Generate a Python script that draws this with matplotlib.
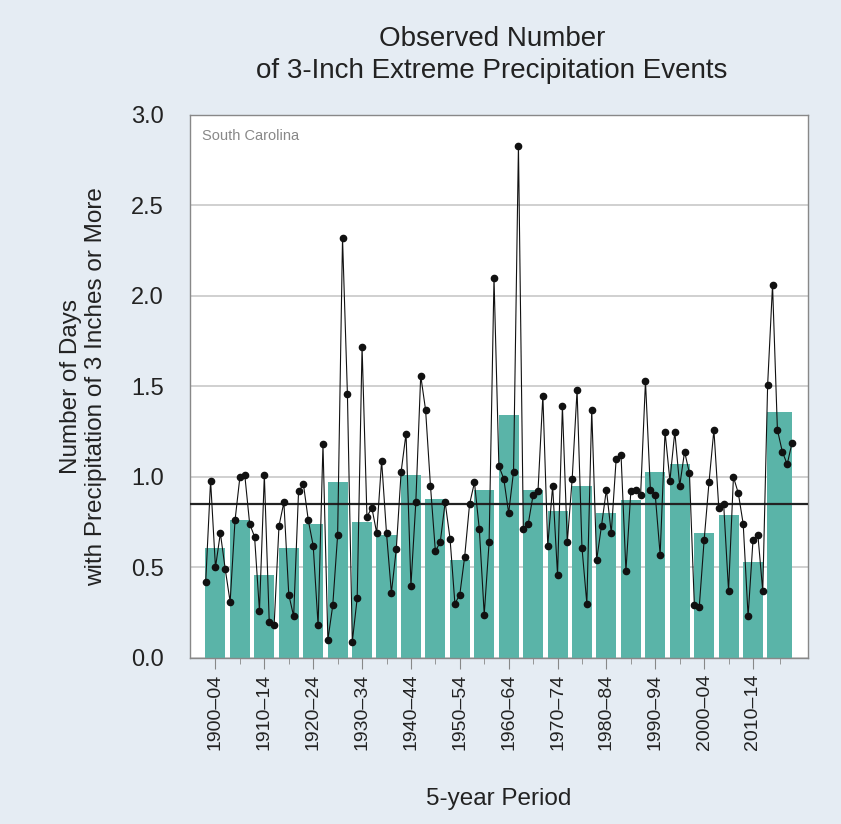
import numpy as np
import matplotlib
matplotlib.use("Agg")
import matplotlib.pyplot as plt

plt.rcParams['font.family'] = ['Liberation Sans', 'DejaVu Sans']

# annual number of 3-inch days, 1900-2020
years = np.arange(1900, 2021)
annual = [
    0.42, 0.98, 0.50, 0.69, 0.49, 0.31, 0.76, 1.00, 1.01, 0.74,
    0.67, 0.26, 1.01, 0.20, 0.18, 0.73, 0.86, 0.35, 0.23, 0.92,
    0.96, 0.76, 0.62, 0.18, 1.18, 0.10, 0.29, 0.68, 2.32, 1.46,
    0.09, 0.33, 1.72, 0.78, 0.83, 0.69, 1.09, 0.69, 0.36, 0.60,
    1.03, 1.24, 0.40, 0.86, 1.56, 1.37, 0.95, 0.59, 0.64, 0.86,
    0.66, 0.30, 0.35, 0.56, 0.85, 0.97, 0.71, 0.24, 0.64, 2.10,
    1.06, 0.99, 0.80, 1.03, 2.83, 0.71, 0.74, 0.90, 0.92, 1.45,
    0.62, 0.95, 0.46, 1.39, 0.64, 0.99, 1.48, 0.61, 0.30, 1.37,
    0.54, 0.73, 0.93, 0.69, 1.10, 1.12, 0.48, 0.92, 0.93, 0.90,
    1.53, 0.93, 0.90, 0.57, 1.25, 0.98, 1.25, 0.95, 1.14, 1.02,
    0.29, 0.28, 0.65, 0.97, 1.26, 0.83, 0.85, 0.37, 1.00, 0.91,
    0.74, 0.23, 0.65, 0.68, 0.37, 1.51, 2.06, 1.26, 1.14, 1.07,
    1.19,
]

# 5-year period averages (last period 2015-2020)
period_start = list(range(1900, 2020, 5))
period_end = [s + 4 for s in period_start[:-1]] + [2020]
period_avg = [
    0.61, 0.76, 0.46, 0.61, 0.74, 0.97, 0.75, 0.68, 1.01, 0.88,
    0.54, 0.93, 1.34, 0.93, 0.81, 0.95, 0.80, 0.87, 1.03, 1.07,
    0.69, 0.79, 0.53, 1.36,
]
period_labels = [f"{s}–{str(e)[2:]}" for s, e in zip(period_start, period_end)]
long_term_avg = 0.85

fig = plt.figure(figsize=(8.41, 8.24), dpi=100)
fig.patch.set_facecolor('#e5ecf3')
ax = fig.add_axes([0.226, 0.2015, 0.735, 0.659])
ax.set_facecolor('white')

centers = [(s + e) / 2 for s, e in zip(period_start, period_end)]
widths = [e - s + 0.1 for s, e in zip(period_start, period_end)]
ax.bar(centers, period_avg, width=widths, color='#5ab4a8', zorder=2)

ax.axhline(long_term_avg, color='#222222', lw=1.6, zorder=3)
ax.plot(years, annual, color='#111111', lw=0.8, marker='o', ms=4.5, zorder=4)

ax.set_ylim(0, 3.0)
ax.set_xlim(1896.8, 2023.3)
ax.set_yticks(np.arange(0, 3.01, 0.5))
ax.set_yticklabels([f"{v:.1f}" for v in np.arange(0, 3.01, 0.5)])
ax.yaxis.grid(True, color='#c8c8c8', lw=1.2, zorder=0)
ax.set_axisbelow(True)

ax.set_xticks(centers[::2])
ax.set_xticklabels(period_labels[::2], rotation=90)
ax.set_xticks(centers[1::2], minor=True)
ax.tick_params(axis='x', which='major', length=8, color='#888888', labelsize=14, labelcolor='#222222')
ax.tick_params(axis='x', which='minor', length=4, color='#888888')
ax.tick_params(axis='y', length=0, labelsize=17, labelcolor='#222222', pad=19)

for side in ['top', 'right', 'left', 'bottom']:
    ax.spines[side].set_color('#888888')
    ax.spines[side].set_linewidth(1.0)

ax.set_ylabel('Number of Days\nwith Precipitation of 3 Inches or More', fontsize=17.5,
              color='#222222', labelpad=17)
ax.set_xlabel('5-year Period', fontsize=17.5, color='#222222', labelpad=27)
ax.text(0.02, 0.975, 'South Carolina', transform=ax.transAxes, fontsize=10.5,
        color='#888888', va='top', ha='left')

fig.text(0.585, 0.933, 'Observed Number\nof 3-Inch Extreme Precipitation Events',
         ha='center', va='center', fontsize=20, color='#222222', linespacing=1.3)

fig.savefig('out.png', dpi=100, facecolor=fig.get_facecolor())
